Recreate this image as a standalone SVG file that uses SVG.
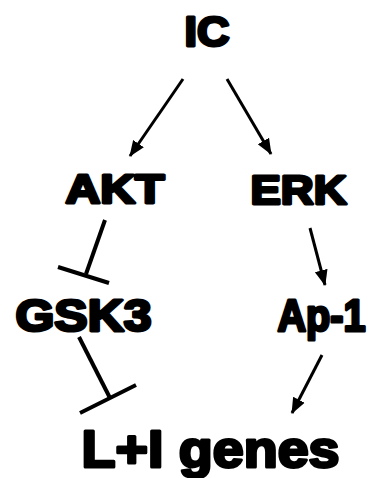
<svg xmlns="http://www.w3.org/2000/svg" width="380" height="478" viewBox="0 0 380 478">
  <defs>
    <marker id="arrow" markerUnits="userSpaceOnUse" markerWidth="16" markerHeight="16" viewBox="0 0 16 16" refX="15" refY="8" orient="auto">
      <path d="M0,1.5 L16,8 L0,14.5 z" fill="#000"/>
    </marker>
    <style>
      .lbl { font-family: "Liberation Sans", Arial, sans-serif; font-weight: bold; fill: #000; stroke: #000; stroke-width: 3; stroke-linejoin: round; text-anchor: middle; }
      .act { stroke: #000; stroke-width: 3; fill: none; marker-end: url(#arrow); }
      .inh { stroke: #000; stroke-width: 4; fill: none; }
    </style>
  </defs>

  <rect width="380" height="478" fill="#fff"/>

  <g id="connectors">
    <line class="act" x1="183" y1="79" x2="130" y2="156"/>
    <line class="act" x1="227" y1="79" x2="271" y2="154"/>
    <line class="inh" x1="105" y1="220" x2="86" y2="274"/>
    <line class="inh" x1="58" y1="267" x2="109" y2="283"/>
    <line class="act" x1="310" y1="228" x2="325" y2="285"/>
    <line class="inh" x1="79" y1="337" x2="110" y2="398"/>
    <line class="inh" x1="80" y1="413" x2="136" y2="385"/>
    <line class="act" x1="322" y1="355" x2="292" y2="413"/>
  </g>

  <g id="node-ic">
    <text class="lbl" x="207" y="46" font-size="43" textLength="45" lengthAdjust="spacingAndGlyphs">IC</text>
  </g>
  <g id="node-akt">
    <text class="lbl" x="115" y="203" font-size="40" textLength="99" lengthAdjust="spacingAndGlyphs">AKT</text>
  </g>
  <g id="node-erk">
    <text class="lbl" x="298.5" y="204" font-size="41" textLength="96" lengthAdjust="spacingAndGlyphs">ERK</text>
  </g>
  <g id="node-gsk3">
    <text class="lbl" x="83.5" y="331" font-size="44" textLength="136" lengthAdjust="spacingAndGlyphs">GSK3</text>
  </g>
  <g id="node-ap1">
    <text class="lbl" x="321.5" y="331" font-size="44" textLength="88" lengthAdjust="spacingAndGlyphs">Ap-1</text>
  </g>
  <g id="node-genes">
    <text class="lbl" x="210.5" y="467" font-size="52" textLength="258" lengthAdjust="spacingAndGlyphs">L+I genes</text>
  </g>
</svg>
